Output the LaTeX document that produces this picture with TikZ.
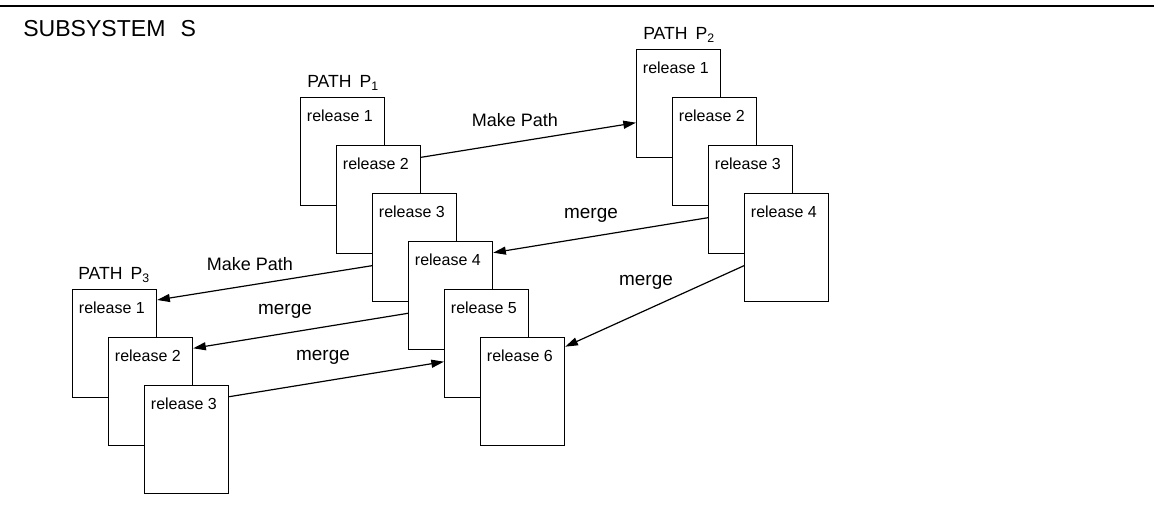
\documentclass[tikz,border=0pt]{standalone}
\usepackage{fontspec}
\setmainfont{Liberation Sans}
\usetikzlibrary{arrows.meta,calc}

\tikzset{
  rel/.style={draw, fill=white, line width=0.9pt, minimum width=63pt, minimum height=80.6pt,
    inner sep=0pt, anchor=north west,
    label={[anchor=base west, inner sep=0pt, xshift=5pt, yshift=-18.3pt,
      font=\fontsize{12}{14}\selectfont]north west:#1}},
  pathlbl/.style={anchor=base west, inner sep=0pt, font=\fontsize{13.2}{15}\selectfont},
  lbl/.style={inner sep=0pt, font=\fontsize{13.5}{16}\selectfont},
  arr/.style={line width=0.9pt, -{Triangle[length=9.5pt, width=6pt]}},
}

\begin{document}
\begin{tikzpicture}[x=0.75pt, y=-0.75pt]
    \useasboundingbox (0,0) rectangle (1154,516);
    \draw[line width=1.1pt] (0,6) -- (1154,6);
    \node[anchor=base west, inner sep=0pt, font=\fontsize{17.3}{20}\selectfont] (sub) at (23,37) {SUBSYSTEM\hspace{0.65em}S};
    % the three paths, each release shifted by (36,48)
    \foreach \i in {1,...,6}
        \node[rel={release \i}] (p1r\i) at ({300+36*(\i-1)}, {97.3+48*(\i-1)}) {};
    \foreach \i in {1,...,4}
        \node[rel={release \i}] (p2r\i) at ({636+36*(\i-1)}, {49.3+48*(\i-1)}) {};
    \foreach \i in {1,...,3}
        \node[rel={release \i}] (p3r\i) at ({72+36*(\i-1)}, {289.3+48*(\i-1)}) {};
    \node[pathlbl] (p1) at (307,87.5) {PATH\hspace{0.45em}P\textsubscript{1}};
    \node[pathlbl] (p2) at (643,39.5) {PATH\hspace{0.45em}P\textsubscript{2}};
    \node[pathlbl] (p3) at (78,279.5) {PATH\hspace{0.45em}P\textsubscript{3}};
    % make path and merge arrows
    \draw[arr] ($(p1r2.north east)+(0,12)$) -- ($(p2r1.north west)+(0,73.4)$);
    \draw[arr] ($(p2r3.north west)+(0,72.4)$) -- ($(p1r4.north east)+(0,11.4)$);
    \draw[arr] ($(p1r3.north west)+(0,72.4)$) -- ($(p3r1.north east)+(0,10.7)$);
    \draw[arr] ($(p1r4.north west)+(0,72)$) -- ($(p3r2.north east)+(0,11)$);
    \draw[arr] ($(p3r3.north east)+(0,11.4)$) -- ($(p1r5.north west)+(0,72.4)$);
    \draw[arr] ($(p2r4.north west)+(0,72.4)$) -- ($(p1r6.north east)+(0,9.4)$);
    \node[lbl] (mp12) at (515,120) {Make Path};
    \node[lbl, font=\fontsize{14.2}{16}\selectfont] (mg21) at (591,215) {merge};
    \node[lbl] (mp13) at (250,264) {Make Path};
    \node[lbl, font=\fontsize{14.2}{16}\selectfont] (mg13) at (285,311) {merge};
    \node[lbl, font=\fontsize{14.2}{16}\selectfont] (mg31) at (323,357) {merge};
    \node[lbl, font=\fontsize{14.2}{16}\selectfont] (mg24) at (646,282) {merge};
\end{tikzpicture}
\end{document}
